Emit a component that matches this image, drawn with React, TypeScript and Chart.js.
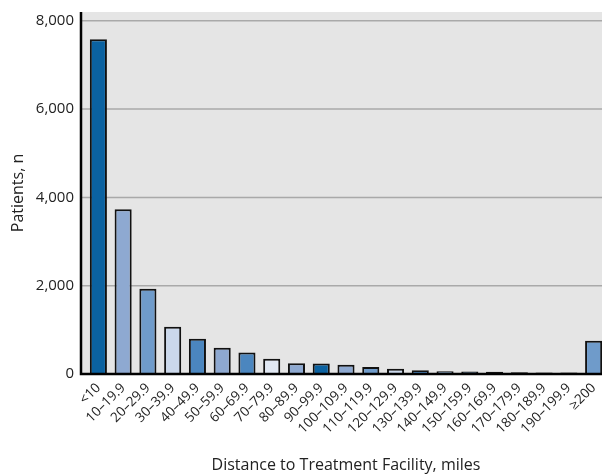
import React, { useEffect, useRef } from "react";
import { Chart, registerables } from "chart.js";

Chart.register(...registerables);

const categories = [
  "<10", "10–19.9", "20–29.9", "30–39.9", "40–49.9", "50–59.9", "60–69.9",
  "70–79.9", "80–89.9", "90–99.9", "100–109.9", "110–119.9", "120–129.9",
  "130–139.9", "140–149.9", "150–159.9", "160–169.9", "170–179.9",
  "180–189.9", "190–199.9", "≥200",
];
const patients = [
  7580, 3730, 1930, 1070, 800, 595, 485, 345, 245, 240, 210, 160, 120, 85, 65,
  55, 50, 40, 35, 35, 755,
];
const yTicks = [0, 2000, 4000, 6000, 8000];
const yMax = 8200;

const D = "#0b62a1";
const L = "#8ea9d1";
const M = "#6f9bca";
const VL = "#cbd8eb";
const MD = "#4b86bf";
const VVL = "#e1e8f3";
const barColors = [D, L, M, VL, MD, L, MD, VVL, L, D, L, M, VL, MD, M, MD, VL, MD, L, MD, M];

const FONT = "'Open Sans', 'Noto Sans', sans-serif";
const GAP = 5;

const framePlugin = {
  id: "frame",
  beforeDatasetsDraw(chart: any) {
    const { ctx, chartArea } = chart;
    const { top, bottom, right } = chartArea;
    const left = chartArea.left - GAP;
    ctx.save();
    ctx.fillStyle = "#e5e5e5";
    ctx.fillRect(left, top, right - left, bottom - top);
    const ys = chart.scales.y;
    ctx.strokeStyle = "#a9a9a9";
    ctx.lineWidth = 1.5;
    ys.ticks.forEach((t: any) => {
      if (t.value === 0) return;
      const y = ys.getPixelForValue(t.value);
      ctx.beginPath();
      ctx.moveTo(left, y);
      ctx.lineTo(right, y);
      ctx.stroke();
    });
    ctx.restore();
  },
  afterDatasetsDraw(chart: any) {
    const { ctx, chartArea } = chart;
    const { top, bottom, right } = chartArea;
    const left = chartArea.left - GAP;
    ctx.save();
    ctx.strokeStyle = "#000";
    ctx.lineWidth = 2.5;
    ctx.beginPath();
    ctx.moveTo(left, top);
    ctx.lineTo(left, bottom);
    ctx.lineTo(right, bottom);
    ctx.stroke();
    ctx.restore();
  },
};

export default function App() {
  const ref = useRef<HTMLCanvasElement>(null);
  useEffect(() => {
    document.body.style.overflow = "hidden";
    const chart = new Chart(ref.current!, {
      type: "bar",
      data: {
        labels: categories,
        datasets: [
          {
            data: patients,
            backgroundColor: barColors,
            borderColor: "#111",
            borderWidth: 2,
            barPercentage: 0.69,
            categoryPercentage: 1,
          },
        ],
      },
      options: {
        animation: false,
        responsive: false,
        devicePixelRatio: 1,
        layout: { padding: { top: 12, left: 0, right: 0, bottom: 0 } },
        plugins: {
          legend: { display: false },
          tooltip: { enabled: false },
        },
        scales: {
          x: {
            grid: { display: false, drawTicks: false },
            border: { display: false },
            ticks: {
              color: "#222",
              font: { family: FONT, size: 13.5 },
              maxRotation: 45,
              minRotation: 45,
              autoSkip: false,
              padding: 6,
            },
            title: {
              display: true,
              text: "Distance to Treatment Facility, miles",
              color: "#222",
              font: { family: FONT, size: 16, weight: "normal" },
              padding: { top: 0, bottom: 1 },
            },
            afterFit(scale: any) {
              scale.height = 476 - 374;
              scale.paddingLeft = 0;
              scale.paddingRight = 0;
            },
          },
          y: {
            min: 0,
            max: yMax,
            grid: { display: false, drawTicks: false },
            border: { display: false },
            afterBuildTicks(axis: any) {
              axis.ticks = yTicks.map((v) => ({ value: v }));
            },
            ticks: {
              color: "#222",
              font: { family: FONT, size: 15 },
              padding: 12,
              callback: (v: any) => Number(v).toLocaleString("en-US"),
            },
            title: {
              display: true,
              text: "Patients, n",
              color: "#222",
              font: { family: FONT, size: 16, weight: "normal" },
              padding: { top: 21, bottom: 0 },
            },
            afterFit(scale: any) {
              scale.width = 98;
              scale.paddingTop = 0;
              scale.paddingBottom = 0;
            },
          },
        },
      },
      plugins: [framePlugin],
    });
    return () => chart.destroy();
  }, []);
  return (
    <canvas
      ref={ref}
      width={618}
      height={476}
      style={{ position: "absolute", left: -12, top: 0, width: 618, height: 476 }}
    />
  );
}
